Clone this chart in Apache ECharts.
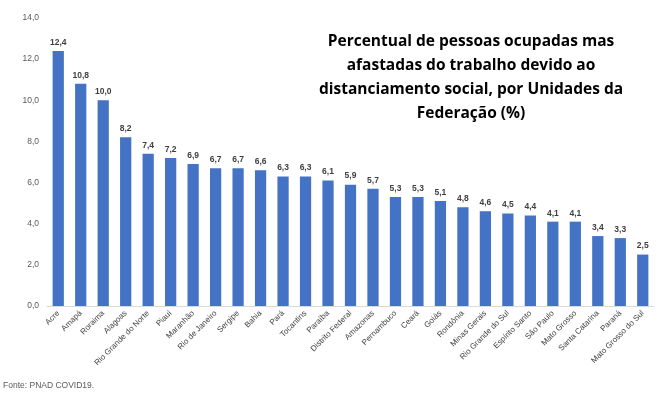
<!DOCTYPE html>
<html><head><meta charset="utf-8">
<script src="https://cdn.jsdelivr.net/npm/echarts@6/dist/echarts.min.js"></script>
<style>html,body{margin:0;padding:0;background:#fff}#c{width:660px;height:394px}</style>
</head><body><div id="c"></div>
<script>
const categories = ["Acre","Amapá","Roraima","Alagoas","Rio Grande do Norte","Piauí","Maranhão","Rio de Janeiro","Sergipe","Bahia","Pará","Tocantins","Paraíba","Distrito Federal","Amazonas","Pernambuco","Ceará","Goiás","Rondônia","Minas Gerais","Rio Grande do Sul","Espírito Santo","São Paulo","Mato Grosso","Santa Catarina","Paraná","Mato Grosso do Sul"];
const values = [12.4,10.8,10.0,8.2,7.4,7.2,6.9,6.7,6.7,6.6,6.3,6.3,6.1,5.9,5.7,5.3,5.3,5.1,4.8,4.6,4.5,4.4,4.1,4.1,3.4,3.3,2.5];
const titleText = "Percentual de pessoas ocupadas mas\nafastadas do trabalho devido ao\ndistanciamento social, por Unidades da\nFederação (%)";
const sourceText = "Fonte: PNAD COVID19.";
const fmt = v => v.toFixed(1).replace('.', ',');
const chart = echarts.init(document.getElementById('c'));
chart.setOption({
  animation: false,
  textStyle: {fontFamily: 'Liberation Sans'},
  title: [{
    text: titleText, left: 471, top: 30, textAlign: 'center', padding: 0,
    textStyle: {fontSize: 15.5, fontWeight: 'bold', color: '#000', lineHeight: 24, fontFamily: 'Open Sans'}
  },{
    text: sourceText, left: 3, top: 381, padding: 0,
    textStyle: {fontSize: 8.5, fontWeight: 'normal', color: '#595959'}
  }],
  grid: {left: 47, right: 6, top: 18, bottom: 88},
  xAxis: {
    type: 'category', data: categories,
    axisLine: {lineStyle: {color: '#d9d9d9'}},
    axisTick: {show: false},
    axisLabel: {rotate: 45, interval: 0, fontSize: 8, color: '#404040', margin: 6}
  },
  yAxis: {
    type: 'value', min: 0, max: 14, interval: 2,
    axisLine: {show: false}, axisTick: {show: false},
    splitLine: {show: false},
    axisLabel: {formatter: fmt, fontSize: 8.5, color: '#595959', margin: 8}
  },
  series: [{
    type: 'bar', data: values, barWidth: '50%',
    itemStyle: {color: '#4472C4'},
    label: {show: true, position: 'top', formatter: p => fmt(p.value), fontSize: 8.5, fontWeight: 'bold', color: '#404040', distance: 4}
  }]
});
</script></body></html>
